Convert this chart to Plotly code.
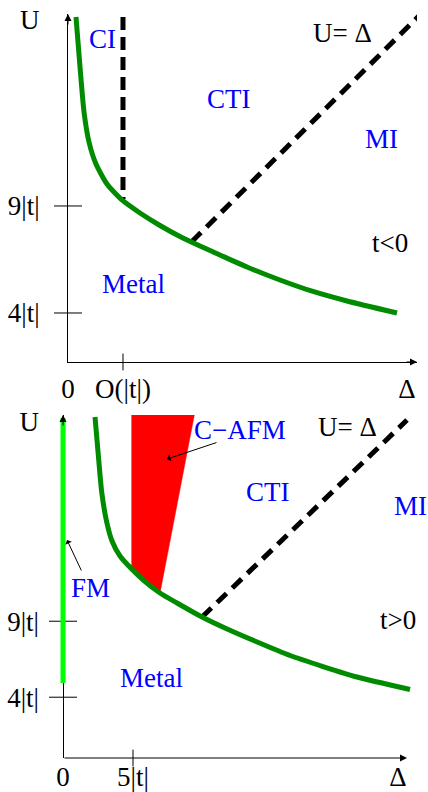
import plotly.graph_objects as go

# ================= DATA =================
# Top panel (t<0); Delta and U in units of |t| (schematic)
TOP_CURVE_DELTA = [0.374, 0.561, 0.748, 0.981, 1.308, 1.822, 2.523, 3.364, 4.299, 5.234, 6.168, 7.103, 8.364, 9.907, 11.449, 13.037, 15.374]
TOP_CURVE_U = [17.832, 15.495, 13.393, 11.991, 10.963, 10.028, 9.280, 8.673, 8.089, 7.575, 7.131, 6.710, 6.150, 5.542, 5.005, 4.561, 4.000]
TOP_CI_DELTA = [2.57, 2.57]
TOP_CI_U = [17.83, 9.33]
TOP_DIAG_DELTA = [5.78, 16.40]
TOP_DIAG_U = [7.33, 17.88]
TOP_U_TICKVALS = [9, 4]
TOP_U_TICKTEXT = ["9|t|", "4|t|"]
TOP_D_TICKVALS = [2.57]
TOP_D_TICKTEXT = ["O(|t|)"]

# Bottom panel (t>0)
BOT_CURVE_DELTA = [2.286, 2.521, 2.764, 3.121, 3.500, 4.071, 4.907, 5.736, 6.929, 8.143, 9.929, 11.643, 13.786, 16.214, 18.571, 21.000, 24.786]
BOT_CURVE_U = [22.434, 19.934, 17.500, 15.526, 14.276, 13.289, 12.434, 11.711, 10.855, 10.197, 9.276, 8.520, 7.664, 6.743, 6.020, 5.329, 4.507]
BOT_CAFM_DELTA = [4.907, 9.379, 6.929, 5.736, 4.907, 4.907]
BOT_CAFM_U = [22.566, 22.566, 10.855, 11.711, 12.434, 22.566]
BOT_FM_DELTA = [0, 0]
BOT_FM_U = [22.37, 4.93]
BOT_DIAG_DELTA = [9.929, 24.571]
BOT_DIAG_U = [9.276, 22.237]
BOT_U_TICKVALS = [9, 4]
BOT_U_TICKTEXT = ["9|t|", "4|t|"]
BOT_D_TICKVALS = [5]
BOT_D_TICKTEXT = ["5|t|"]

# ================= STYLE / LAYOUT =================
FONT = "Liberation Serif"
FS = 27
DARK_GREEN = "#008b00"
BRIGHT_GREEN = "#00ff00"
BLUE = "#0000ff"
W, H = 428, 792

TOP_XR = [0, 16.31]
TOP_YR = [1.71, 17.97]
BOT_XR = [-0.5, 26.07]
BOT_YR = [0, 22.57]
BOT_XAXIS_END = 24.57

fig = go.Figure()

# tick marks (drawn first so coloured lines cover them)
fig.add_trace(go.Scatter(x=[0] * len(TOP_U_TICKVALS), y=TOP_U_TICKVALS, mode="markers",
                         marker=dict(symbol="line-ew", size=20, line=dict(width=1, color="black")),
                         cliponaxis=False, xaxis="x", yaxis="y", hoverinfo="skip"))
fig.add_trace(go.Scatter(x=TOP_D_TICKVALS, y=[TOP_YR[0]] * len(TOP_D_TICKVALS), mode="markers",
                         marker=dict(symbol="line-ns", size=12, line=dict(width=1, color="black")),
                         cliponaxis=False, xaxis="x", yaxis="y", hoverinfo="skip"))
fig.add_trace(go.Scatter(x=[0] * len(BOT_U_TICKVALS), y=BOT_U_TICKVALS, mode="markers",
                         marker=dict(symbol="line-ew", size=20, line=dict(width=1, color="black")),
                         cliponaxis=False, xaxis="x2", yaxis="y2", hoverinfo="skip"))
fig.add_trace(go.Scatter(x=BOT_D_TICKVALS, y=[BOT_YR[0]] * len(BOT_D_TICKVALS), mode="markers",
                         marker=dict(symbol="line-ns", size=12, line=dict(width=1, color="black")),
                         cliponaxis=False, xaxis="x2", yaxis="y2", hoverinfo="skip"))

# top panel
fig.add_trace(go.Scatter(x=TOP_CI_DELTA, y=TOP_CI_U, mode="lines",
                         line=dict(color="black", width=5, dash="13px,7px"), xaxis="x", yaxis="y"))
fig.add_trace(go.Scatter(x=TOP_DIAG_DELTA, y=TOP_DIAG_U, mode="lines",
                         line=dict(color="black", width=5, dash="13px,8px"), xaxis="x", yaxis="y"))
fig.add_trace(go.Scatter(x=TOP_CURVE_DELTA, y=TOP_CURVE_U, mode="lines",
                         line=dict(color=DARK_GREEN, width=5, shape="spline", smoothing=0.6),
                         xaxis="x", yaxis="y"))

# bottom panel
fig.add_trace(go.Scatter(x=BOT_CAFM_DELTA, y=BOT_CAFM_U, mode="lines", fill="toself",
                         fillcolor="#ff0000", line=dict(color="#ff0000", width=0.5),
                         xaxis="x2", yaxis="y2"))
fig.add_trace(go.Scatter(x=BOT_FM_DELTA, y=BOT_FM_U, mode="lines",
                         line=dict(color=BRIGHT_GREEN, width=5), xaxis="x2", yaxis="y2"))
fig.add_trace(go.Scatter(x=BOT_DIAG_DELTA, y=BOT_DIAG_U, mode="lines",
                         line=dict(color="black", width=5, dash="13px,8px"), xaxis="x2", yaxis="y2"))
fig.add_trace(go.Scatter(x=BOT_CURVE_DELTA, y=BOT_CURVE_U, mode="lines",
                         line=dict(color=DARK_GREEN, width=5, shape="spline", smoothing=0.6),
                         xaxis="x2", yaxis="y2"))

axis_common = dict(showgrid=False, ticks="", layer="below traces", automargin=False,
                   tickfont=dict(family=FONT, size=FS, color="black"), fixedrange=True)

fig.update_layout(
    width=W, height=H, margin=dict(l=0, r=0, t=0, b=0, autoexpand=False),
    paper_bgcolor="white", plot_bgcolor="white", showlegend=False,
    xaxis=dict(domain=[68 / W, 417 / W], range=TOP_XR, anchor="y", zeroline=False,
               showline=True, linecolor="black", linewidth=1,
               tickvals=[0] + TOP_D_TICKVALS + [15.84], ticktext=["0"] + TOP_D_TICKTEXT + ["Δ"],
               ticklabelstandoff=3, **axis_common),
    yaxis=dict(domain=[1 - 362 / H, 1 - 14 / H], range=TOP_YR, anchor="x", zeroline=False,
               showline=True, linecolor="black", linewidth=1,
               tickvals=TOP_U_TICKVALS + [17.69], ticktext=TOP_U_TICKTEXT + ["U"],
               ticklabelstandoff=22, **axis_common),
    xaxis2=dict(domain=[56 / W, 1], range=BOT_XR, anchor="y2",
                zeroline=True, zerolinecolor="black", zerolinewidth=1, showline=False,
                tickvals=[0] + BOT_D_TICKVALS + [23.93], ticktext=["0"] + BOT_D_TICKTEXT + ["Δ"],
                ticklabelstandoff=0, **axis_common),
    yaxis2=dict(domain=[1 - 758 / H, 1 - 415 / H], range=BOT_YR, anchor="x2",
                zeroline=False, showline=False,
                tickvals=BOT_U_TICKVALS + [22.17], ticktext=BOT_U_TICKTEXT + ["U"],
                ticklabelstandoff=16, **axis_common),
)

annotations = []
# axis arrows
annotations.append(dict(xref="x", yref="y", x=TOP_XR[1], y=TOP_YR[0], ax=-12, ay=0, text="",
                        showarrow=True, arrowhead=2, arrowsize=1.4, arrowwidth=1, arrowcolor="black"))
annotations.append(dict(xref="x", yref="y", x=0, y=TOP_YR[1], ax=0, ay=12, text="",
                        showarrow=True, arrowhead=2, arrowsize=1.4, arrowwidth=1, arrowcolor="black"))
annotations.append(dict(xref="x2", yref="y2", x=BOT_XAXIS_END, y=0, ax=0, ay=0, axref="x2", ayref="y2",
                        text="", showarrow=True, arrowhead=2, arrowsize=1.4, arrowwidth=1,
                        arrowcolor="black"))
annotations.append(dict(xref="x2", yref="y2", x=0, y=BOT_YR[1], ax=0, ay=12, text="",
                        showarrow=True, arrowhead=2, arrowsize=1.4, arrowwidth=1, arrowcolor="black"))

# region labels
labels = [
    ("x", "y", 1.59, 16.80, "CI", BLUE),
    ("x", "y", 7.52, 14.00, "CTI", BLUE),
    ("x", "y", 14.63, 12.13, "MI", BLUE),
    ("x", "y", 3.08, 5.36, "Metal", BLUE),
    ("x", "y", 12.85, 17.08, "U= Δ", "black"),
    ("x", "y", 15.05, 7.27, "t<0", "black"),
    ("x2", "y2", 12.64, 21.58, "C−AFM", BLUE),
    ("x2", "y2", 20.29, 21.78, "U= Δ", "black"),
    ("x2", "y2", 14.64, 17.50, "CTI", BLUE),
    ("x2", "y2", 24.79, 16.58, "MI", BLUE),
    ("x2", "y2", 1.93, 11.18, "FM", BLUE),
    ("x2", "y2", 6.29, 5.26, "Metal", BLUE),
    ("x2", "y2", 23.93, 9.08, "t>0", "black"),
]
for xr, yr, x, y, t, c in labels:
    annotations.append(dict(xref=xr, yref=yr, x=x, y=y, text=t, showarrow=False,
                            xanchor="center", yanchor="middle",
                            font=dict(family=FONT, size=FS, color=c)))

# pointer arrows
for x, y, ax, ay in [(7.43, 19.67, 11.07, 20.79), (0.29, 14.34, 1.36, 12.24)]:
    annotations.append(dict(xref="x2", yref="y2", x=x, y=y, ax=ax, ay=ay, axref="x2", ayref="y2",
                            text="", showarrow=True, arrowhead=1, arrowsize=1.2, arrowwidth=1,
                            arrowcolor="black"))

fig.update_layout(annotations=annotations)

fig.write_html("out.html", config={"displayModeBar": False, "staticPlot": True},
               post_script="document.body.style.margin='0';document.body.style.padding='0';")
